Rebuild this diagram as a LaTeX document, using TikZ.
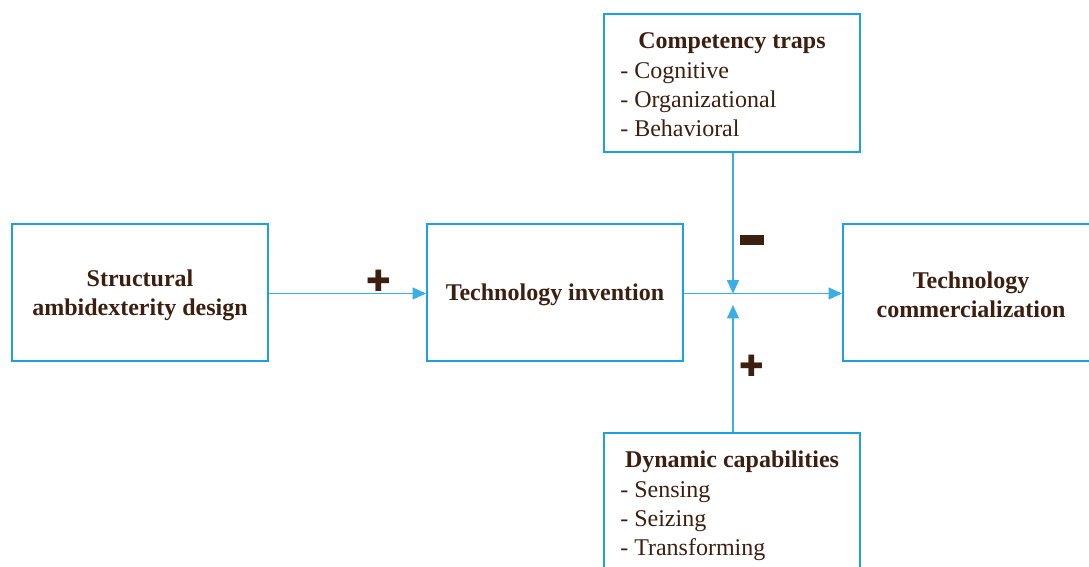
\documentclass[tikz,border=0pt]{standalone}
\usepackage{fontspec}
\setmainfont{Liberation Serif}
\newfontfamily\symfont{DejaVu Sans}
\usetikzlibrary{arrows.meta,positioning}

\definecolor{boxblue}{HTML}{1BA1E2}
\definecolor{lineblue}{HTML}{3AAEE6}
\definecolor{inkbrown}{HTML}{3D1F10}

\begin{document}
\begin{tikzpicture}[
    x=0.75pt, y=-0.75pt,
    all/.style={font=\fontsize{18}{21.75}\selectfont, text=inkbrown},
    box/.style={rectangle, draw=boxblue, line width=1.5pt,
        minimum width=192pt, minimum height=103pt, inner sep=0pt},
    head/.style={all, align=center, font=\fontsize{18}{21.75}\selectfont\bfseries},
    items/.style={all, align=left, inner sep=0pt, anchor=north west},
    arr/.style={draw=lineblue, line width=0.8pt, -{Triangle[length=10pt,width=9pt]}},
    plussign/.style={text=inkbrown, font=\symfont\fontsize{22}{22}\selectfont, inner sep=0pt},
    minussign/.style={fill=inkbrown, minimum width=18pt, minimum height=7pt, inner sep=0pt},
]
    \clip (0,0) rectangle (1089,567);

    % main line
    \node [box] (struct) at (140,292.5) {};
    \node [head] (structtext) at (140,295) {Structural\\ambidexterity design};
    \node [box] (invent) at (555,292.5) {};
    \node [head] (inventtext) at (555,295) {Technology invention};
    \node [box] (commerc) at (971,292.5) {};
    \node [head] (commerctext) at (971,295) {Technology\\commercialization};

    % moderators
    \node [box] (traps) at (732,83) {};
    \node [head] (trapshead) at (732,43) {Competency traps};
    \node [items] (trapslist) at (620,62) {- Cognitive\\- Organizational\\- Behavioral};

    \node [box] (dyncap) at (732,502) {};
    \node [head] (dyncaphead) at (732,462) {Dynamic capabilities};
    \node [items] (dyncaplist) at (620,481) {- Sensing\\- Seizing\\- Transforming};

    \coordinate (meet) at (733,293.5);
    \coordinate (meetlow) at (733,305);

    \draw [arr] (struct.east |- meet) -- (invent.west |- meet);
    \draw [arr] (invent.east |- meet) -- (commerc.west |- meet);
    \draw [arr] (traps.south -| meet) -- (meet);
    \draw [arr] (dyncap.north -| meetlow) -- (meetlow);

    % signs
    \node [plussign] (plusA) at (379,281) {✚};
    \node [minussign] (minusB) at (752,240) {};
    \node [plussign] (plusC) at (752,366) {✚};
\end{tikzpicture}
\end{document}
